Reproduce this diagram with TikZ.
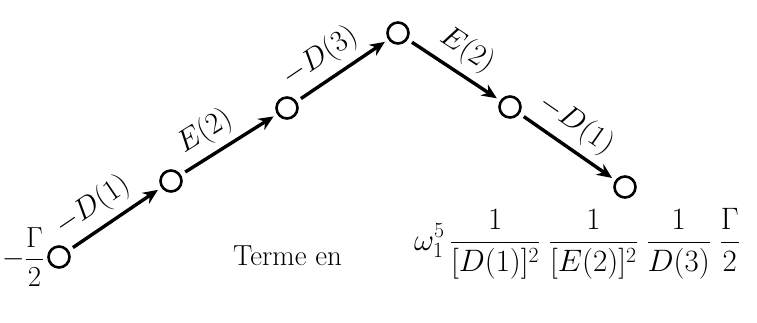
\RequirePackage{fix-cm}
\documentclass[tikz,border=0pt]{standalone}
\usepackage{amsmath}
\usepackage{fontspec}
\usetikzlibrary{arrows.meta,positioning}
\tikzset{
  vertex/.style={draw,circle,line width=2.6pt,minimum size=21pt,inner sep=0pt},
  prop/.style={line width=3.4pt,-{Stealth[length=15pt,width=13pt]},
    shorten >=4pt,shorten <=5pt},
  lab/.style={font=\fontsize{30}{34}\selectfont,sloped,above,inner sep=7pt},
  txt/.style={font=\fontsize{29}{34}\selectfont,inner sep=0pt}
}
\begin{document}
\begin{tikzpicture}[x=1pt,y=-1pt]
\useasboundingbox (0,0) rectangle (757,323);
% chain of states
\node[vertex] (v0) at (59,257) {};
\node[vertex] (v1) at (171,181) {};
\node[vertex] (v2) at (287,108) {};
\node[vertex] (v3) at (398,33) {};
\node[vertex] (v4) at (510,107) {};
\node[vertex] (v5) at (625,187) {};
\node[txt,left=3pt of v0] (gam) {$\displaystyle -\frac{\Gamma}{2}$};
% propagators
\draw[prop] (v0) -- node[lab,pos=0.4] {$-D(1)$} (v1);
\draw[prop] (v1) -- node[lab,pos=0.38] {$E(2)$} (v2);
\draw[prop] (v2) -- node[lab,pos=0.4] {$-D(3)$} (v3);
\draw[prop] (v3) -- node[lab,pos=0.5] {$E(2)$} (v4);
\draw[prop] (v4) -- node[lab,pos=0.45] {$-D(1)$} (v5);
% resulting term
\node[txt,anchor=base west] (terme) at (233,265) {Terme en};
\node[font=\fontsize{31}{36}\selectfont,inner sep=0pt,anchor=base west]
  (res) at (414,250)
  {$\displaystyle \omega_1^5\,\frac{1}{[D(1)]^2}\;\frac{1}{[E(2)]^2}\;
   \frac{1}{D(3)}\;\frac{\Gamma}{2}$};
\end{tikzpicture}
\end{document}
